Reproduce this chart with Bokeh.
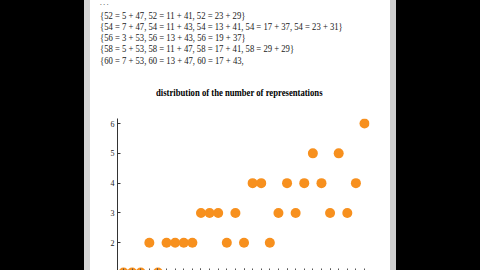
from bokeh.plotting import figure
from bokeh.models import Div, Range1d, SingleIntervalTicker, FixedTicker, ColumnDataSource
from bokeh.layouts import row, column
from bokeh.embed import file_html
from bokeh.resources import INLINE

# ---- data ----
even_numbers = list(range(4, 62, 2))
representations = [1, 1, 1, 2, 1, 2, 2, 2, 2, 3, 3, 3, 2, 3, 2, 4, 4, 2, 3,
                   4, 3, 4, 5, 4, 3, 5, 3, 4, 6]
index = list(range(1, len(representations) + 1))
y_ticks = [1, 2, 3, 4, 5, 6]
output_lines = [
    "{52 = 5 + 47, 52 = 11 + 41, 52 = 23 + 29}",
    "{54 = 7 + 47, 54 = 11 + 43, 54 = 13 + 41, 54 = 17 + 37, 54 = 23 + 31}",
    "{56 = 3 + 53, 56 = 13 + 43, 56 = 19 + 37}",
    "{58 = 5 + 53, 58 = 11 + 47, 58 = 17 + 41, 58 = 29 + 29}",
    "{60 = 7 + 53, 60 = 13 + 47, 60 = 17 + 43,",
]
ellipsis_text = "..."
title_text = "distribution of the number of representations"

# ---- text block (notebook output + plot title) ----
line_tops = [9.5, 20.5, 31.5, 42.5, 54.5]
parts = [
    f'<div style="position:absolute;left:10px;top:0px;white-space:pre;font-size:7px;'
    f'line-height:7px;letter-spacing:1.6px;">{ellipsis_text}</div>'
]
for t, s in zip(line_tops, output_lines):
    parts.append(
        f'<div style="position:absolute;left:10px;top:{t}px;white-space:pre;'
        f'line-height:12px;transform:scaleX(0.865);transform-origin:0 0;">{s}</div>')
parts.append(
    f'<div style="position:absolute;left:66px;top:87px;white-space:pre;font-weight:bold;'
    f'color:#000;line-height:12px;transform:scaleX(0.865);transform-origin:0 0;">{title_text}</div>')
text_html = ('<div style="position:relative;width:300px;height:100px;overflow:hidden;'
             'font-family:\'Liberation Serif\';font-size:10px;color:#1a1a1a;background:white;">'
             + "".join(parts) + '</div>')
text_div = Div(text=text_html, width=300, height=100, margin=0,
               styles={"background-color": "white", "overflow": "hidden"})

# ---- plot ----
src = ColumnDataSource(dict(x=index, y=representations, n=even_numbers))
p = figure(width=300, height=170, output_backend="svg", toolbar_location=None,
           x_range=Range1d(0.30, 29.58), y_range=Range1d(1.067, 6.17),
           min_border_left=27, min_border_right=21, min_border_top=18,
           min_border_bottom=0, margin=0)
p.scatter("x", "y", source=src, size=10, fill_color="#F7901E",
          line_color="#F7901E", line_width=0)

p.background_fill_color = "white"
p.border_fill_color = "white"
p.outline_line_color = None
p.grid.visible = False

p.yaxis.ticker = FixedTicker(ticks=y_ticks)
p.yaxis.major_tick_in = 3
p.yaxis.major_tick_out = 0
p.yaxis.minor_tick_line_color = None
p.yaxis.major_label_standoff = 3
p.yaxis.major_label_text_font = "Liberation Serif"
p.yaxis.major_label_text_font_size = "8px"
p.yaxis.major_label_text_color = "#222222"
p.yaxis.axis_line_color = "#333333"
p.yaxis.major_tick_line_color = "#333333"

p.xaxis.fixed_location = 1
p.xaxis.ticker = SingleIntervalTicker(interval=5, num_minor_ticks=5)
p.xaxis.major_tick_in = 4
p.xaxis.major_tick_out = 0
p.xaxis.minor_tick_in = 4
p.xaxis.minor_tick_out = 0
p.xaxis.major_label_text_color = None
p.xaxis.axis_line_color = "#333333"
p.xaxis.major_tick_line_color = "#555555"
p.xaxis.minor_tick_line_color = "#555555"

center = column(text_div, p, spacing=0, margin=0)

left_black = Div(width=84, height=270, margin=0, styles={"background-color": "black"})
left_gray = Div(width=6, height=270, margin=0, styles={"background-color": "#d6d6d6"})
right_gray = Div(width=6, height=270, margin=0, styles={"background-color": "#cfcfcf"})
right_black = Div(width=84, height=270, margin=0, styles={"background-color": "black"})

layout = row(left_black, left_gray, center, right_gray, right_black, spacing=0, margin=0)

open("out.html", "w").write(file_html(layout, INLINE))
